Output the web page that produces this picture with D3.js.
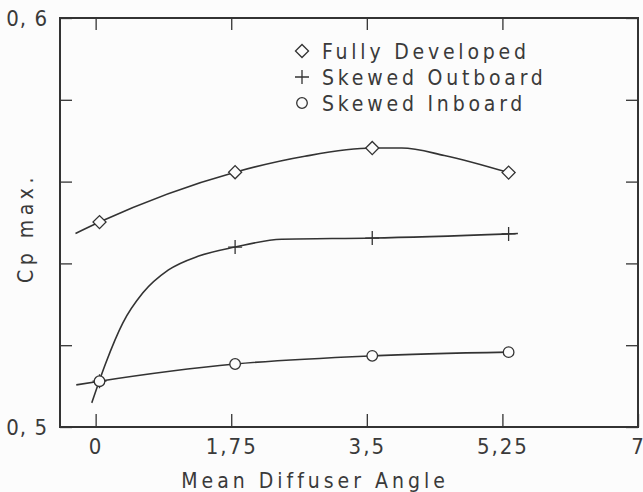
<!DOCTYPE html>
<html>
<head>
<meta charset="utf-8">
<script src="https://cdn.jsdelivr.net/npm/d3@7"></script>
<style>
  body { margin: 0; background: #fcfcfc; }
  text { font-family: "Liberation Sans Narrow", "DejaVu Sans Condensed", sans-serif; fill: #3a3a3a; }
</style>
</head>
<body>
<div id="chart"></div>
<script>
// values
const xTicks = [0, 1.75, 3.5, 5.25, 7];
const xTickLabels = ["0", "1,75", "3,5", "5,25", "7"];
const yTicks = [0.5, 0.52, 0.54, 0.56, 0.58, 0.6];
const yTickLabels = {0.5: "0, 5", 0.6: "0, 6"};

const seriesNames = ["Fully Developed", "Skewed Outboard", "Skewed Inboard"];
const seriesSymbols = ["diamond", "plus", "circle"];

// measured points
const angle = [0.05, 1.8, 3.57, 5.33];
const fullyDeveloped = [0.5501, 0.5623, 0.5682, 0.5622];
const skewedOutboard = [0.5112, 0.5440, 0.5462, 0.5472];
const skewedInboard = [0.5112, 0.5154, 0.5174, 0.5183];

// hand-drawn fit curves
const fitFully = [[-0.26, 0.5473], [0.05, 0.5501], [1.8, 0.5623], [2.7, 0.5662],
                  [3.57, 0.5682], [3.95, 0.5682], [4.5, 0.5664], [5.33, 0.5622]];
const fitOutboard = [[-0.05, 0.5059], [0.13, 0.5156], [0.35, 0.5254], [0.61, 0.5328], [0.94, 0.5384],
                     [1.33, 0.5418], [1.8, 0.5440], [2.4, 0.5459], [3.57, 0.5462], [5.45, 0.5473]];
const fitInboard = [[-0.25, 0.5103], [0.05, 0.5112], [1.8, 0.5154], [3.57, 0.5174], [5.33, 0.5183]];

const W = 643, H = 492;
const margin = {top: 18, right: 5, bottom: 65, left: 60};
const width = W - margin.left - margin.right,
      height = H - margin.top - margin.bottom;

const svg = d3.select("#chart").append("svg")
  .attr("width", W).attr("height", H);

const g = svg.append("g")
  .attr("transform", `translate(${margin.left},${margin.top})`);

const x = d3.scaleLinear().domain([-0.46, 7]).range([0, width]);
const y = d3.scaleLinear().domain([0.5, 0.6]).range([height, 0]);

const ink = "#333";

// axes with inward ticks
const bottom = g.append("g")
  .attr("transform", `translate(0,${height})`)
  .call(d3.axisBottom(x).tickValues(xTicks).tickSize(-13).tickPadding(11)
    .tickFormat((d, i) => xTickLabels[i]));
bottom.selectAll("text").style("font-size", "22px").style("letter-spacing", "2px");

g.append("g")
  .call(d3.axisTop(x).tickValues(xTicks.slice(0, 4)).tickSize(-12).tickFormat(""));

const left = g.append("g")
  .call(d3.axisLeft(y).tickValues(yTicks).tickSize(-12).tickPadding(12)
    .tickFormat(d => yTickLabels[d] || ""));
left.selectAll("text").style("font-size", "22px").style("letter-spacing", "1px");

g.append("g")
  .attr("transform", `translate(${width},0)`)
  .call(d3.axisRight(y).tickValues(yTicks).tickSize(-12).tickFormat(""));

g.selectAll(".domain").remove();
g.selectAll(".tick line").attr("stroke", ink).attr("stroke-width", 1.3);

g.append("rect")
  .attr("width", width).attr("height", height)
  .attr("fill", "none").attr("stroke", ink).attr("stroke-width", 2);

// titles
svg.append("text")
  .attr("x", 315).attr("y", 488)
  .attr("text-anchor", "middle")
  .style("font-size", "21px").style("letter-spacing", "4px")
  .text("Mean Diffuser Angle");

svg.append("text")
  .attr("transform", "translate(33,228) rotate(-90)")
  .attr("text-anchor", "middle")
  .style("font-size", "21px").style("letter-spacing", "4.5px")
  .text("Cp max.");

// curves
const line = d3.line()
  .x(d => x(d[0])).y(d => y(d[1]))
  .curve(d3.curveMonotoneX);

[fitFully, fitOutboard, fitInboard].forEach(pts => {
  g.append("path")
    .attr("d", line(pts))
    .attr("fill", "none")
    .attr("stroke", ink)
    .attr("stroke-width", 1.6);
});

// markers
const symbolPath = {
  diamond: d3.symbol().type(d3.symbolSquare).size(85)(),
  plus: "M-7,0H7M0,-7V7",
  circle: d3.symbol().type(d3.symbolCircle).size(88)()
};

function drawMarker(sel, type) {
  const p = sel.append("path")
    .attr("d", symbolPath[type])
    .attr("fill", type === "plus" ? "none" : "#fcfcfc")
    .attr("stroke", ink)
    .attr("stroke-width", 1.3);
  if (type === "diamond") p.attr("transform", "rotate(45)");
  return p;
}

[fullyDeveloped, skewedOutboard, skewedInboard].forEach((vals, s) => {
  vals.forEach((v, i) => {
    const m = g.append("g")
      .attr("transform", `translate(${x(angle[i])},${y(v)})`);
    drawMarker(m, seriesSymbols[s]);
  });
});

// legend
const legend = svg.append("g").attr("transform", "translate(302,51)");
seriesNames.forEach((name, i) => {
  const row = legend.append("g").attr("transform", `translate(0,${i * 26})`);
  drawMarker(row.append("g"), seriesSymbols[i]);
  row.append("text")
    .attr("x", 20).attr("y", 7.5)
    .style("font-size", "21px").style("letter-spacing", "3.8px")
    .text(name);
});
</script>
</body>
</html>
